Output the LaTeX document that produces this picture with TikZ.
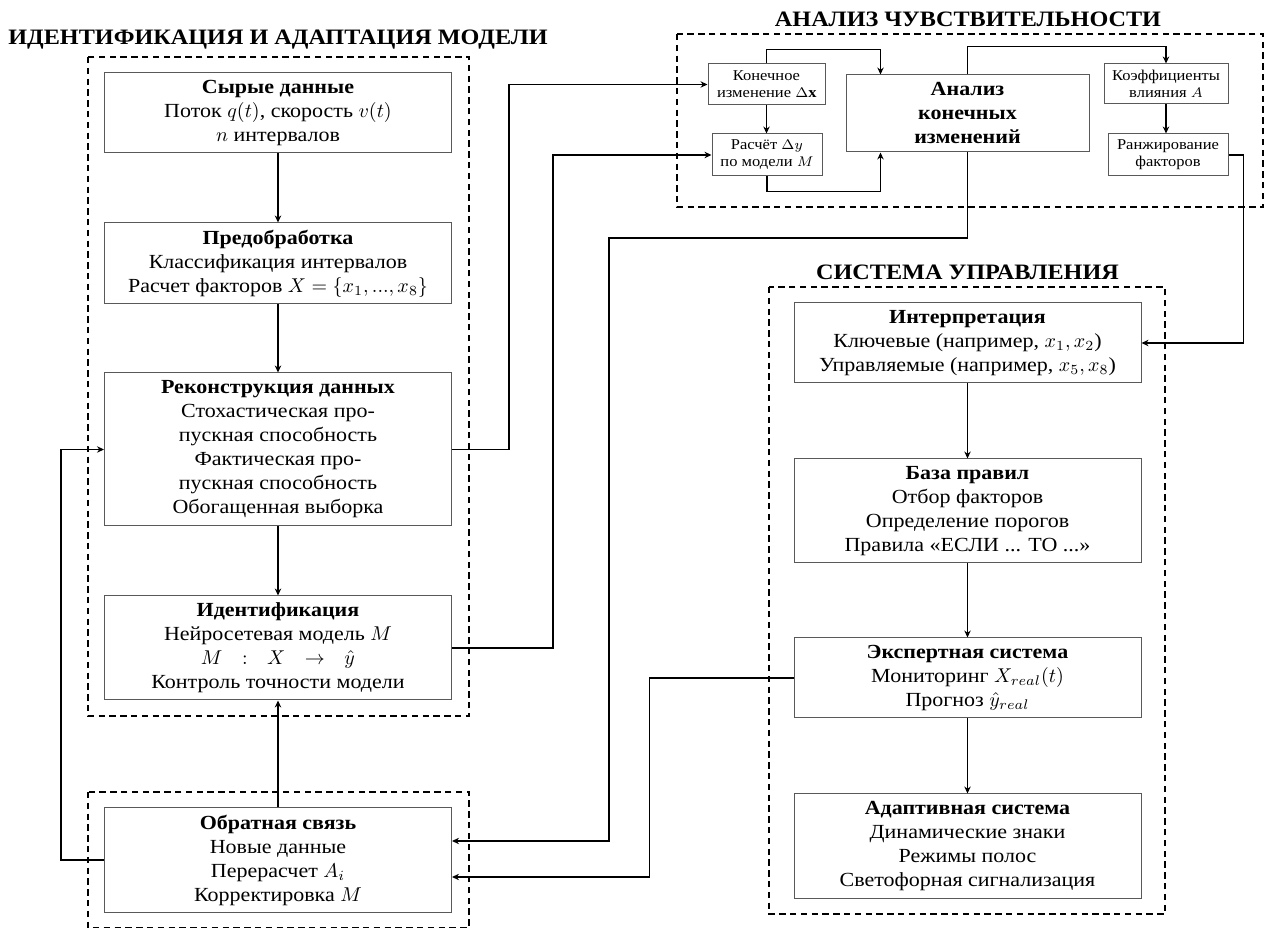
\documentclass[tikz,border=0pt]{standalone}
\usepackage{fontspec}
\setmainfont{Liberation Serif}[FakeStretch=1.1]
\usetikzlibrary{arrows.meta,calc}
\begin{document}
\begin{tikzpicture}[x=0.5pt,y=-0.5pt,
  box/.style={draw=black!65,line width=0.5pt,align=center,inner sep=2pt,
    minimum width=173.5pt,font=\fontsize{10}{12}\selectfont},
  sbox/.style={draw=black!65,line width=0.5pt,align=center,inner sep=1pt,
    font=\fontsize{7.5}{8.5}\selectfont},
  grp/.style={draw=black,line width=0.6pt,dash pattern=on 3.2pt off 2.2pt},
  conn/.style={line width=0.7pt,-{Stealth[length=3.5pt,width=3.2pt]}},
  gtitle/.style={font=\fontsize{11}{13}\selectfont\bfseries}]
\useasboundingbox (0,0) rectangle (1269,929);

% group frames
\draw[grp] (88,57) rectangle (469,716);
\draw[grp] (88,792) rectangle (469,927.5);
\draw[grp] (677,34) rectangle (1263,207);
\draw[grp] (769,287) rectangle (1165,914);

% titles
\node[gtitle] (t1) at (278,40) {ИДЕНТИФИКАЦИЯ И АДАПТАЦИЯ МОДЕЛИ};
\node[gtitle] (t2) at (968,19) {АНАЛИЗ ЧУВСТВИТЕЛЬНОСТИ};
\node[gtitle] (t3) at (967.5,272) {СИСТЕМА УПРАВЛЕНИЯ};

% left column
\node[box,minimum height=40pt] (b1) at (278,113)
  {\textbf{Сырые данные}\\Поток $q(t)$, скорость $v(t)$\\$n$ интервалов};
\node[box,minimum height=40.5pt] (b2) at (278,263.5)
  {\textbf{Предобработка}\\Классификация интервалов\\Расчет факторов $X=\{x_1,...,x_8\}$};
\node[box,minimum height=76.5pt] (b3) at (278,449.5)
  {\textbf{Реконструкция данных}\\Стохастическая про-\\пускная способность\\Фактическая про-\\пускная способность\\Обогащенная выборка};
\node[box,minimum height=52pt] (b4) at (278,648)
  {\textbf{Идентификация}\\Нейросетевая модель $M$\\$M\hspace{7pt}:\hspace{7pt}X\hspace{7pt}\rightarrow\hspace{7pt}\hat{y}$\\Контроль точности модели};
\node[box,minimum height=52pt] (b5) at (278,860)
  {\textbf{Обратная связь}\\Новые данные\\Перерасчет $A_i$\\Корректировка $M$};

% sensitivity
\node[sbox,minimum width=58.5pt,minimum height=20.5pt] (k) at (766.5,84.5)
  {Конечное\\изменение $\Delta\mathbf{x}$};
\node[sbox,minimum width=55pt,minimum height=21pt] (r) at (767,155)
  {Расчёт $\Delta y$\\по модели $M$};
\node[box,minimum width=121.5pt,minimum height=38.5pt] (a) at (967.5,113.5)
  {\textbf{Анализ}\\\textbf{конечных}\\\textbf{изменений}};
\node[sbox,minimum width=62pt,minimum height=20pt] (c) at (1166,84)
  {Коэффициенты\\влияния $A$};
\node[sbox,minimum width=60pt,minimum height=21pt] (rk) at (1168,155)
  {Ранжирование\\факторов};

% control
\node[box,minimum height=40pt] (i) at (967.5,343)
  {\textbf{Интерпретация}\\Ключевые (например, $x_1,x_2$)\\Управляемые (например, $x_5,x_8$)};
\node[box,minimum height=52pt] (bp) at (967.5,511)
  {\textbf{База правил}\\Отбор факторов\\Определение порогов\\Правила «ЕСЛИ ... ТО ...»};
\node[box,minimum height=40pt] (e) at (967.5,678)
  {\textbf{Экспертная система}\\Мониторинг $X_{real}(t)$\\Прогноз $\hat{y}_{real}$};
\node[box,minimum height=52pt] (d) at (967.5,846)
  {\textbf{Адаптивная система}\\Динамические знаки\\Режимы полос\\Светофорная сигнализация};

% connectors left
\draw[conn] (b1.south) -- (b2.north);
\draw[conn] (b2.south) -- (b3.north);
\draw[conn] (b3.south) -- (b4.north);
\draw[conn] (b5.north) -- (b4.south);
\draw[conn] (b5.west) -- ++(-43,0) |- (b3.west);
\draw[conn] (b3.east) -- ++(57,0) |- (k.west);
\draw[conn] (b4.east) -- ++(101,0) |- (r.west);

% sensitivity connectors
\draw[conn] (k.south) -- (k.south |- r.north);
\draw[conn] (k.north) -- ++(0,-14) -| ($(a.north west)+(35,0)$);
\draw[conn] (r.south) -- ++(0,15) -| ($(a.south west)+(35,0)$);
\draw[conn] (a.north) -- ++(0,-28) -| (c.north);
\draw[conn] (c.south) -- (c.south |- rk.north);
\draw[conn] (rk.east) -- ++(15,0) |- (i.east);
\draw[conn] (a.south) |- (609,238) |- ($(b5.east)+(0,-19)$);

% control connectors
\draw[conn] (i.south) -- (bp.north);
\draw[conn] (bp.south) -- (e.north);
\draw[conn] (e.south) -- (d.north);
\draw[conn] (e.west) -- ++(-144,0) |- ($(b5.east)+(0,17)$);
\end{tikzpicture}
\end{document}
